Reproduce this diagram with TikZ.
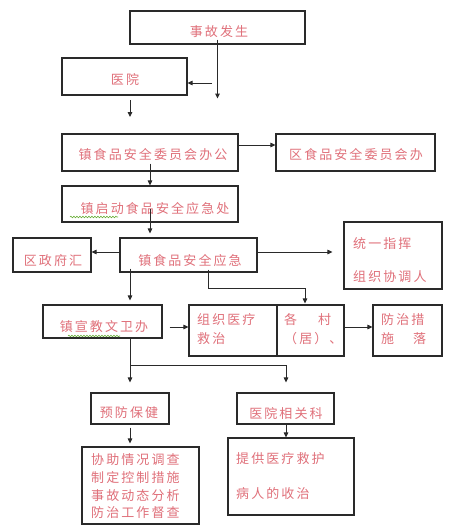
\documentclass[tikz,border=0pt]{standalone}
\usepackage{fontspec}
\newfontfamily\cjk{Noto Sans CJK SC}[LetterSpace=16]
\usetikzlibrary{arrows.meta,decorations.pathmorphing}
\definecolor{txt}{HTML}{E0707A}
\definecolor{lnc}{HTML}{2A2A2A}
\definecolor{squig}{HTML}{6AAF3A}
\newcommand\bx[5]{\node[box,minimum width={#4-#2},minimum height={#5-#3}] (#1) at ({(#2+#4)/2},{(#3+#5)/2}) {};}
\begin{document}
\begin{tikzpicture}[x=1pt,y=-1pt,
 box/.style={draw=lnc,line width=1.1pt,inner sep=0pt},
 lbl/.style={inner sep=0pt,text=txt,font=\cjk\fontsize{13}{15}\selectfont},
 arr/.style={draw=lnc,line width=0.9pt,-{Triangle[length=5pt,width=4.5pt]}},
 plain/.style={draw=lnc,line width=0.9pt},
 wavy/.style={draw=squig,line width=0.6pt,decorate,decoration={snake,amplitude=0.8pt,segment length=3pt}}]
\useasboundingbox (0,0) rectangle (456,530);
\fill[white] (0,0) rectangle (456,530);
% boxes
\bx{sg}{130}{11}{305}{44}
\bx{yy}{62}{58}{187}{95}
\bx{wy}{62}{134}{238}{171}
\bx{qwy}{276}{134}{435}{171}
\bx{qd}{62}{186}{238}{222}
\bx{qzf}{13}{238}{91}{272}
\bx{yj}{120}{238}{257}{272}
\bx{zh}{344}{222}{442}{289}
\bx{xj}{43}{305}{162}{338}
\bx{yl}{189}{305}{277}{356}
\bx{gc}{277}{305}{344}{356}
\bx{fz}{373}{305}{442}{356}
\bx{yf}{91}{393}{169}{424}
\bx{xg}{237}{393}{334}{424}
\bx{dc}{82}{447}{199}{524}
\bx{jh}{228}{438}{354}{515}
% texts
\node[lbl] (t1) at (219,32) {事故发生};
\node[lbl] (t2) at (125,80) {医院};
\node[lbl] (t3) at (153,155) {镇食品安全委员会办公};
\node[lbl] (t4) at (356,155) {区食品安全委员会办};
\node[lbl] (t5) at (155,209) {镇启动食品安全应急处};
\node[lbl] (t6) at (53,261) {区政府汇};
\node[lbl] (t7) at (190,261) {镇食品安全应急};
\node[lbl,anchor=west] (t8) at (353,244) {统一指挥};
\node[lbl,anchor=west] (t9) at (353,277) {组织协调人};
\node[lbl] (t10) at (104,327) {镇宣教文卫办};
\node[lbl,anchor=west] (t11) at (197,320) {组织医疗};
\node[lbl,anchor=west] (t12) at (197,339) {救治};
\node[lbl,anchor=west] (t13) at (284,320) {各\kern 21pt 村};
\node[lbl,anchor=west] (t14) at (284,339) {（居）、};
\node[lbl,anchor=west] (t15) at (381,320) {防治措};
\node[lbl,anchor=west] (t16) at (381,339) {施\kern 19pt 落};
\node[lbl] (t17) at (129,413) {预防保健};
\node[lbl] (t18) at (286,413) {医院相关科};
\node[lbl,anchor=west] (t19) at (91,460) {协助情况调查};
\node[lbl,anchor=west] (t20) at (91,478) {制定控制措施};
\node[lbl,anchor=west] (t21) at (91,496) {事故动态分析};
\node[lbl,anchor=west] (t22) at (91,513) {防治工作督查};
\node[lbl,anchor=west] (t23) at (236,459) {提供医疗救护};
\node[lbl,anchor=west] (t24) at (236,494) {病人的收治};
% spell-check squiggles
\draw[wavy] (70,217) -- (118,217);
\draw[wavy] (68,336) -- (120,336);
% connectors
\coordinate (c1) at (212,83);
\coordinate (c2) at (130,100);
\coordinate (br) at (130,365);
\draw[arr] ([yshift=5pt]sg.south) -- ++(0,59);
\draw[arr] (c1) -- (c1 -| yy.east);
\draw[arr] (c2) -- ++(0,17);
\draw[arr] (wy.east |- 0,145) -- (qwy.west |- 0,145);
\draw[arr] ([yshift=8pt]wy.south -| 150,0) -- (qd.north -| 150,0);
\draw[arr] ([yshift=14pt]qd.south -| 150,0) -- ([yshift=4pt]yj.north -| 150,0);
\draw[arr] (yj.west |- 0,252) -- (qzf.east |- 0,252);
\draw[arr] (yj.east |- 0,252) -- ([xshift=-11pt]zh.west |- 0,252);
\draw[arr] ([yshift=4pt]yj.south -| 130,0) -- ([yshift=4pt]xj.north -| 130,0);
\draw[arr] ([yshift=3pt]yj.south -| 208,0) -- (208,288) -| ([yshift=1pt]gc.north -| 305,0);
\draw[arr] ([xshift=7pt]xj.east |- 0,327) -- (yl.west |- 0,327);
\draw[arr] (gc.east |- 0,327) -- (fz.west |- 0,327);
\draw[arr] (xj.south -| br) -- ([yshift=10pt]yf.north -| br);
\draw[arr] (br) -| ([yshift=10pt]xg.north -| 286,0);
\draw[arr] ([yshift=-3pt]yf.south -| br) -- ([yshift=3pt]dc.north -| br);
\draw[arr] (xg.south -| 286,0) -- (jh.north -| 286,0);
\end{tikzpicture}
\end{document}
